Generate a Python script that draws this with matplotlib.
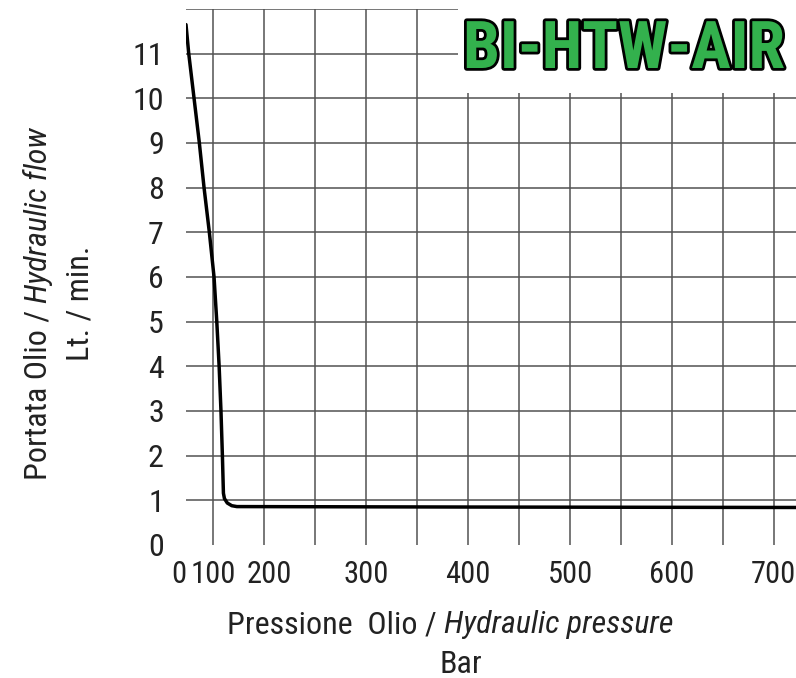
"""
Hydraulic flow vs pressure curve (BI-HTW-AIR pump).
Writes out.png
"""

import numpy as np
import matplotlib
matplotlib.use("Agg")
import matplotlib.pyplot as plt
import matplotlib.patheffects as pe
from matplotlib import font_manager
from matplotlib.patches import Rectangle

# ── Data (x in chart units: gridlines every 50) ────────────────
pressure = [123.3, 126.0, 131.2, 136.4, 141.0, 146.2, 150.8, 153.5,
            155.8, 157.6, 159.0, 160.0, 161.0, 163.8, 168.2, 173.2,
            400.0, 721.6]
flow = [11.65, 11.0, 10.0, 9.0, 8.0, 7.0, 6.0, 5.0,
        4.0, 3.0, 2.0, 1.16, 1.04, 0.94, 0.88, 0.86,
        0.85, 0.84]

x_tick_pos = [123.3, 149.7, 205, 300, 400, 500, 600, 699]
x_tick_labels = ["0", "100", "200", "300", "400", "500", "600", "700"]
y_ticks = list(range(0, 12))
grid_x = list(range(150, 701, 50))
grid_y = list(range(1, 13))

LOGO = "BI-HTW-AIR"
LOGO_GREEN = "#33b14d"
GRID = "#525252"

# ── Font: prefer a narrow sans ─────────────────────────────────
names = {f.name for f in font_manager.fontManager.ttflist}
FONT, STRETCH = "Liberation Sans", "normal"
for cand in ["Liberation Sans Narrow", "Arial Narrow", "Roboto Condensed",
             "Open Sans Condensed", "Noto Sans Condensed",
             "DejaVu Sans Condensed"]:
    if cand in names:
        FONT = cand
        break
else:
    for f in font_manager.fontManager.ttflist:
        if f.stretch in ("condensed", "semi-condensed", "extra-condensed") \
                and f.name in ("Noto Sans", "DejaVu Sans", "Open Sans", "Roboto"):
            FONT, STRETCH = f.name, "condensed"
            break

plt.rcParams["font.family"] = [FONT, "DejaVu Sans"]
plt.rcParams["font.stretch"] = STRETCH

W, H = 796, 678
fig = plt.figure(figsize=(W / 100, H / 100), dpi=100)


def fx(px):
    return px / W


def fy(py):
    return 1 - py / H


ax = fig.add_axes([fx(186), fy(545), fx(796) - fx(186), fy(9) - fy(545)])
ax.set_xlim(123.3, 721.6)
ax.set_ylim(0, 12)
for s in ax.spines.values():
    s.set_visible(False)

for gx in grid_x:
    ax.axvline(gx, color=GRID, lw=1.1, zorder=1)
for gy in grid_y:
    ax.axhline(gy, color=GRID, lw=1.1, zorder=1)

ax.plot(pressure, flow, color="black", lw=2.5, zorder=3,
        solid_joinstyle="round", solid_capstyle="round")

ax.set_xticks(x_tick_pos)
ax.set_xticklabels(x_tick_labels)
ax.set_yticks(y_ticks)
ax.set_yticklabels([str(v) for v in y_ticks])
ax.tick_params(axis="x", length=0, pad=11, labelsize=22, colors="#222222")
ax.tick_params(axis="y", length=0, pad=16, labelsize=23, colors="#222222")
# the "0" sits right against the left edge, so hang it to the left
ax.get_xticklabels()[0].set_ha("right")

# ── Logo box ───────────────────────────────────────────────────
fig.add_artist(Rectangle((fx(458), fy(93)), fx(796) - fx(458), fy(0) - fy(93),
                         transform=fig.transFigure, facecolor="white",
                         edgecolor="none", zorder=2))
renderer = fig.canvas.get_renderer()
logo = fig.text(fx(624), fy(50), LOGO, ha="center", va="center",
                fontsize=50, fontweight="bold", color=LOGO_GREEN, zorder=4)
w = logo.get_window_extent(renderer).width
logo.set_fontsize(50 * 322 / w)
logo.set_path_effects([pe.withStroke(linewidth=4, foreground="black")])


# ── Axis titles (mixed regular / italic) ───────────────────────
def mixed_line(parts, cx, cy, size, vertical=False, gap=7):
    texts = []
    for s, style in parts:
        t = fig.text(0, 0, s, fontsize=size, style=style, color="#222222",
                     ha="left", va="baseline", rotation=90 if vertical else 0,
                     rotation_mode="anchor")
        bb = t.get_window_extent(renderer)
        texts.append((t, bb.height if vertical else bb.width))
    total = sum(L for _, L in texts) + gap * (len(texts) - 1)
    if vertical:
        pos = cy + total / 2
        for t, L in texts:
            t.set_position((fx(cx), fy(pos)))
            pos -= L + gap
    else:
        pos = cx - total / 2
        for t, L in texts:
            t.set_position((fx(pos), fy(cy)))
            pos += L + gap


mixed_line([("Pressione  Olio /", "normal"), ("Hydraulic pressure", "italic")],
           450.5, 633, 23)
mixed_line([("Bar", "normal")], 461, 673, 23)
mixed_line([("Portata Olio /", "normal"), ("Hydraulic flow", "italic")],
           46.7, 303.5, 23, vertical=True)
mixed_line([("Lt. / min.", "normal")], 88.3, 303.5, 23, vertical=True)

fig.savefig("out.png", dpi=100)
